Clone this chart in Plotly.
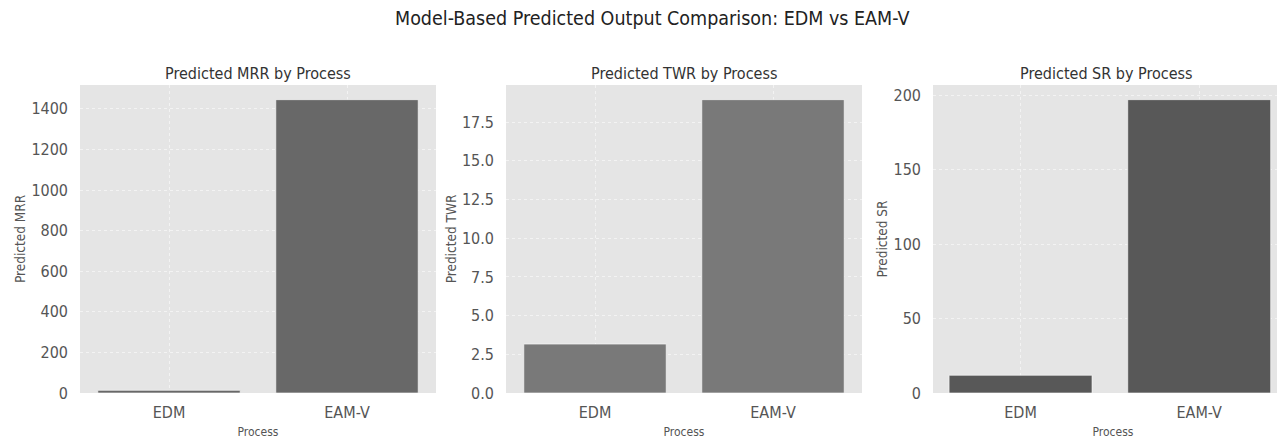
import plotly.graph_objects as go

processes = ["EDM", "EAM-V"]
mrr_values = [13, 1445]
twr_values = [3.16, 18.95]
sr_values = [11.9, 197.1]

panel_titles = ["Predicted MRR by Process", "Predicted TWR by Process", "Predicted SR by Process"]
y_titles = ["Predicted MRR", "Predicted TWR", "Predicted SR"]
bar_colors = ["#686868", "#797979", "#585858"]
series = [mrr_values, twr_values, sr_values]

W, H = 1285, 443
OFF = 8  # page body margin offset
x_px = [(80 - OFF, 436 - OFF), (506 - OFF, 862 - OFF), (933 - OFF, 1285)]
y_top, y_bot = 85 - OFF, 393 - OFF
x_ranges = [[-0.5, 1.5], [-0.5, 1.5], [-0.49, 1.525]]
y_tick_vals = [
    [0, 200, 400, 600, 800, 1000, 1200, 1400],
    [0, 2.5, 5, 7.5, 10, 12.5, 15, 17.5],
    [0, 50, 100, 150, 200],
]
y_tick_text = [
    ["0", "200", "400", "600", "800", "1000", "1200", "1400"],
    ["0.0", "2.5", "5.0", "7.5", "10.0", "12.5", "15.0", "17.5"],
    ["0", "50", "100", "150", "200"],
]

FONT = "DejaVu Sans Condensed, DejaVu Sans"
GRID = "rgba(255,255,255,0.55)"
fig = go.Figure()
layout = {}
annotations = []
for i in range(3):
    sfx = "" if i == 0 else str(i + 1)
    vals = series[i]
    fig.add_trace(go.Bar(
        x=processes, y=vals, width=0.8,
        marker=dict(color=bar_colors[i], line=dict(color="rgba(255,255,255,0.6)", width=1)),
        xaxis="x" + sfx, yaxis="y" + sfx, showlegend=False,
    ))
    x0, x1 = x_px[i]
    layout["xaxis" + sfx] = dict(
        domain=[x0 / W, min(x1 / W, 1.0)], anchor="y" + sfx, range=x_ranges[i],
        showgrid=True, gridcolor=GRID, griddash="dot", gridwidth=1,
        tickfont=dict(family=FONT, size=16, color="#555555"),
        ticks="", ticklabelstandoff=8, zeroline=False, showline=False, automargin=False,
        title=dict(text="Process", font=dict(family=FONT, size=12, color="#555555"), standoff=6),
    )
    layout["yaxis" + sfx] = dict(
        domain=[1 - y_bot / H, 1 - y_top / H], anchor="x" + sfx,
        range=[0, max(vals) * 1.05],
        tickvals=y_tick_vals[i], ticktext=y_tick_text[i],
        showgrid=True, gridcolor=GRID, griddash="dot", gridwidth=1,
        tickfont=dict(family=FONT, size=16, color="#555555"),
        ticks="", ticklabelstandoff=11, zeroline=False, showline=False, automargin=False,
        title=dict(text=y_titles[i], font=dict(family=FONT, size=13.5, color="#555555"), standoff=2),
    )
    cx = ((80 + 436) / 2 if i == 0 else (506 + 862) / 2 if i == 1 else 1106) - OFF
    annotations.append(dict(
        text=panel_titles[i], x=cx / W, y=1 - (73 - OFF) / H, xref="paper", yref="paper",
        xanchor="center", yanchor="middle", showarrow=False,
        font=dict(family=FONT, size=16, color="#333333"),
    ))

annotations.append(dict(
    text="Model-Based Predicted Output Comparison: EDM vs EAM-V",
    x=(651.5 - OFF) / W, y=1 - (19 - OFF) / H,
    xref="paper", yref="paper", xanchor="center", yanchor="middle", showarrow=False,
    font=dict(family=FONT, size=19.5, color="#222222"),
))

fig.update_layout(
    **layout,
    annotations=annotations,
    width=W, height=H,
    margin=dict(l=0, r=0, t=0, b=0),
    paper_bgcolor="white", plot_bgcolor="#e5e5e5",
    bargap=0.2,
)

fig.write_html("out.html")
